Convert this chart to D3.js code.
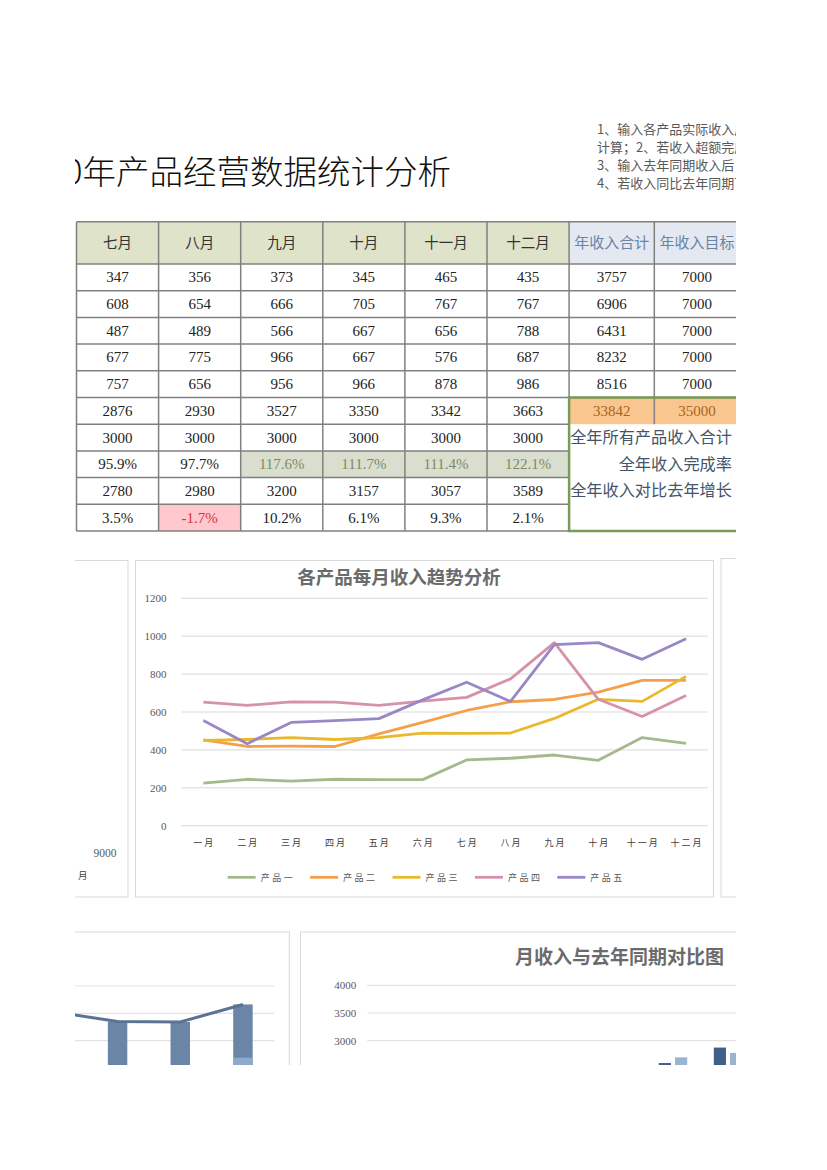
<!DOCTYPE html>
<html>
<head>
<meta charset="utf-8">
<script src="https://cdn.jsdelivr.net/npm/d3@7"></script>
<style>
  body { margin: 0; background: #fff; }
  svg { display: block; }
</style>
</head>
<body>
<div id="chart"></div>
<script>
// ---- data ----
const months = ["一月", "二月", "三月", "四月", "五月", "六月", "七月", "八月", "九月", "十月", "十一月", "十二月"];
const productNames = ["产品一", "产品二", "产品三", "产品四", "产品五"];
const product1 = [225, 245, 235, 245, 243, 243, 347, 356, 373, 345, 465, 435];
const product2 = [453, 418, 420, 418, 485, 545, 608, 654, 666, 705, 767, 767];
const product3 = [450, 455, 465, 455, 465, 488, 487, 489, 566, 667, 656, 788];
const product4 = [652, 635, 653, 652, 635, 657, 677, 775, 966, 667, 576, 687];
const product5 = [555, 433, 545, 555, 565, 664, 757, 656, 956, 966, 878, 986];
const products = [product1, product2, product3, product4, product5];
const productTarget = [7000, 7000, 7000, 7000, 7000];
const monthTarget = [3000, 3000, 3000, 3000, 3000, 3000, 3000, 3000, 3000, 3000, 3000, 3000];
const lastYear = [null, null, null, null, null, 2700, 2780, 2980, 3200, 3157, 3057, 3589];
const lightBars = [null, null, null, null, null, null, null, null, null, null, null, 2690];
const yearTarget = 35000;
const productColors = ["#a5b98c", "#f4a04b", "#e9b82c", "#d692aa", "#9a87c6"];
const trendTicks = [0, 200, 400, 600, 800, 1000, 1200];
const compareTicks = [3000, 3500, 4000];

const titleText = "2020年产品经营数据统计分析";
const notes = [
  "1、输入各产品实际收入后，自动",
  "计算；2、若收入超额完成，标注",
  "3、输入去年同期收入后，自动计算",
  "4、若收入同比去年同期下降，标注"
];
const blockLabels = ["全年所有产品收入合计", "全年收入完成率", "全年收入对比去年增长"];

// derived
const monthTotals = months.map((m, i) => d3.sum(products, p => p[i]));
const productTotals = products.map(p => d3.sum(p));
const grandTotal = d3.sum(productTotals);

const W = 827, H = 1170;
const CN = "'Noto Sans CJK SC', 'Noto Sans', sans-serif";
const SERIF = "'Liberation Serif', 'DejaVu Serif', serif";

const svg = d3.select("#chart").append("svg").attr("width", W).attr("height", H);
svg.append("defs").append("clipPath").attr("id", "page")
  .append("rect").attr("x", 75).attr("y", 0).attr("width", 661).attr("height", 1065);
const page = svg.append("g").attr("clip-path", "url(#page)");

// ---- title and notes ----
page.append("text")
  .attr("x", 451).attr("y", 184)
  .attr("text-anchor", "end")
  .attr("font-family", CN).attr("font-weight", 300)
  .attr("font-size", 33.5).attr("fill", "#111")
  .text(titleText);

page.selectAll("text.note").data(notes).join("text")
  .attr("class", "note")
  .attr("x", 597).attr("y", (d, i) => 133.5 + i * 18.3)
  .attr("font-family", CN).attr("font-size", 13).attr("fill", "#595959")
  .text(d => d);

// ---- table ----
const tblX0 = 76.5, monthW = 82.1, sumW = 85.2;
const colLeft = d3.range(9).map(i => i <= 6 ? tblX0 + i * monthW : tblX0 + 6 * monthW + (i - 6) * sumW);
const headTop = 221.7, headH = 42.3, rowH = 26.7;
const rowTop = r => headTop + headH + r * rowH;
const shown = d3.range(6, 12);
const table = page.append("g");

function cell(c, r, txt, opt = {}) {
  const x = colLeft[c], w = colLeft[c + 1] - colLeft[c];
  const y = r < 0 ? headTop : rowTop(r), h = r < 0 ? headH : rowH;
  if (opt.fill) table.append("rect").attr("x", x).attr("y", y).attr("width", w).attr("height", h).attr("fill", opt.fill);
  if (txt !== null) {
    table.append("text")
      .attr("x", x + w / 2).attr("y", y + h / 2 + 5)
      .attr("text-anchor", "middle")
      .attr("font-family", opt.cn ? CN : SERIF)
      .attr("font-size", opt.size || 15)
      .attr("fill", opt.color || "#222")
      .text(txt);
  }
}

// header
shown.forEach((m, c) => cell(c, -1, months[m], { fill: "#dee3c9", cn: true, size: 14.5, color: "#333", }));
cell(6, -1, "年收入合计", { fill: "#e4e9f1", cn: true, size: 15, color: "#6a84a8" });
cell(7, -1, "年收入目标", { fill: "#e4e9f1", cn: true, size: 15, color: "#6a84a8" });

// product rows
products.forEach((p, r) => {
  shown.forEach((m, c) => cell(c, r, p[m]));
  cell(6, r, productTotals[r]);
  cell(7, r, productTarget[r]);
});
// totals / targets / rate / last year / growth
shown.forEach((m, c) => {
  cell(c, 5, monthTotals[m]);
  cell(c, 6, monthTarget[m]);
  const rate = monthTotals[m] / monthTarget[m];
  cell(c, 7, d3.format(".1%")(rate), rate > 1 ? { fill: "#dadecf", color: "#7b8b67" } : {});
  cell(c, 8, lastYear[m]);
  const g = monthTotals[m] / lastYear[m] - 1;
  cell(c, 9, d3.format(".1%")(g).replace("−", "-"), g < 0 ? { fill: "#ffc7ce", color: "#d6333b" } : {});
});
cell(6, 5, grandTotal, { fill: "#f8c68e", color: "#a8641c", size: 15 });
cell(7, 5, yearTarget, { fill: "#f8c68e", color: "#a8641c", size: 15 });

// grid lines
const gridStroke = "#808080";
const tblBottom = rowTop(10);
d3.range(11).forEach(i => {
  const y = i === 0 ? headTop : rowTop(i - 1);
  const xEnd = i >= 7 ? colLeft[6] : colLeft[8];
  table.append("line").attr("x1", colLeft[0]).attr("x2", xEnd).attr("y1", y).attr("y2", y)
    .attr("stroke", gridStroke).attr("stroke-width", 1.5);
});
table.append("line").attr("x1", colLeft[0]).attr("x2", colLeft[6]).attr("y1", tblBottom).attr("y2", tblBottom)
  .attr("stroke", gridStroke).attr("stroke-width", 1.5);
colLeft.forEach((x, i) => {
  const yEnd = i >= 7 ? rowTop(6) : tblBottom;
  table.append("line").attr("x1", x).attr("x2", x).attr("y1", headTop).attr("y2", yEnd)
    .attr("stroke", gridStroke).attr("stroke-width", 1.5);
});
// green summary block
table.append("path")
  .attr("d", `M${colLeft[8] + 4},${rowTop(5)} H${colLeft[6]} V${tblBottom} H${colLeft[8] + 4}`)
  .attr("fill", "none").attr("stroke", "#7a9a57").attr("stroke-width", 2.5);
blockLabels.forEach((t, i) => {
  table.append("text")
    .attr("x", 732).attr("y", rowTop(6 + i) + rowH / 2 + 5.5)
    .attr("text-anchor", "end")
    .attr("font-family", CN).attr("font-size", 16.2).attr("fill", "#44546a")
    .text(t);
});

// ---- chart frames ----
const frame = (x, y, w, h) => page.append("rect").attr("x", x).attr("y", y).attr("width", w).attr("height", h)
  .attr("fill", "#fff").attr("stroke", "#d9d9d9").attr("stroke-width", 1);
frame(-300, 560.5, 428, 336.5);
frame(135.5, 560.5, 578, 336.5);
frame(721, 558.5, 300, 338.5);
frame(-300, 932, 589.3, 300);
frame(300.5, 932, 740, 300);

// partial chart on the left
page.append("text").attr("x", 116.5).attr("y", 857).attr("text-anchor", "end")
  .attr("font-family", SERIF).attr("font-size", 11.5).attr("fill", "#595959").text("9000");
page.append("text").attr("x", 78).attr("y", 879)
  .attr("font-family", CN).attr("font-size", 9.5).attr("fill", "#404040").text("月");

// ---- trend line chart ----
const trend = page.append("g");
const x = d3.scaleBand().domain(months).range([181.4, 708]);
const y = d3.scaleLinear().domain([0, 1200]).range([825.7, 598.3]);

trend.append("text")
  .attr("x", 399).attr("y", 583.5).attr("text-anchor", "middle")
  .attr("font-family", CN).attr("font-weight", 700).attr("font-size", 18.5).attr("fill", "#6b6b6b")
  .text("各产品每月收入趋势分析");

trend.selectAll("line.grid").data(trendTicks).join("line")
  .attr("class", "grid")
  .attr("x1", 181.4).attr("x2", 708)
  .attr("y1", d => y(d)).attr("y2", d => y(d))
  .attr("stroke", "#d9d9d9").attr("stroke-width", 1);

const yAxis = trend.append("g").attr("transform", "translate(181.4,0)")
  .call(d3.axisLeft(y).tickValues(trendTicks).tickSize(0).tickPadding(15).tickFormat(d3.format("d")));
yAxis.select(".domain").remove();
yAxis.selectAll("text").attr("font-family", SERIF).attr("font-size", 11).attr("fill", "#595959");

trend.selectAll("text.xlab").data(months).join("text")
  .attr("class", "xlab")
  .attr("x", d => x(d) + x.bandwidth() / 2 + 1).attr("y", 846)
  .attr("text-anchor", "middle")
  .attr("font-family", CN).attr("font-size", 9).attr("letter-spacing", 2)
  .attr("fill", "#404040")
  .text(d => d);

const line = d3.line().x((d, i) => x(months[i]) + x.bandwidth() / 2).y(d => y(d));
trend.selectAll("path.series").data(products).join("path")
  .attr("class", "series")
  .attr("d", line)
  .attr("fill", "none")
  .attr("stroke", (d, i) => productColors[i])
  .attr("stroke-width", 2.8)
  .attr("stroke-linejoin", "round");

const legend = trend.selectAll("g.leg").data(productNames).join("g")
  .attr("class", "leg")
  .attr("transform", (d, i) => `translate(${227.7 + i * 82.4},877.3)`);
legend.append("line").attr("x1", 0).attr("x2", 28).attr("y1", 0).attr("y2", 0)
  .attr("stroke", (d, i) => productColors[i]).attr("stroke-width", 2.8);
legend.append("text").attr("x", 33).attr("y", 3.5)
  .attr("font-family", CN).attr("font-size", 9).attr("letter-spacing", 2.5).attr("fill", "#595959")
  .text(d => d);

// ---- bottom-left: monthly totals column + line ----
const bl = page.append("g");
const xb = d3.scaleBand().domain(months).range([-478, 274.3]).paddingInner(0.69).paddingOuter(0.345);
const yb = d3.scaleLinear().domain([0, 4000]).range([1204.8, 986]);
bl.selectAll("line.grid").data(compareTicks).join("line")
  .attr("class", "grid")
  .attr("x1", -478).attr("x2", 274.3)
  .attr("y1", d => yb(d)).attr("y2", d => yb(d))
  .attr("stroke", "#e3e3e3").attr("stroke-width", 1.2);
bl.selectAll("rect.bar").data(monthTotals).join("rect")
  .attr("class", "bar")
  .attr("x", (d, i) => xb(months[i])).attr("width", xb.bandwidth())
  .attr("y", d => yb(d)).attr("height", d => yb(0) - yb(d))
  .attr("fill", "#6b85a6");
bl.selectAll("rect.light").data(lightBars.map((v, i) => ({ m: months[i], v })).filter(d => d.v !== null)).join("rect")
  .attr("class", "light")
  .attr("x", d => xb(d.m)).attr("width", xb.bandwidth())
  .attr("y", d => yb(d.v)).attr("height", d => yb(0) - yb(d.v))
  .attr("fill", "#8ea9ca");
bl.append("path")
  .attr("d", d3.line().x((d, i) => xb(months[i]) + xb.bandwidth() / 2).y(d => yb(d))(monthTotals))
  .attr("fill", "none").attr("stroke", "#5b7393").attr("stroke-width", 3);

// ---- bottom-right: this year vs last year ----
const br = page.append("g");
const x2 = d3.scaleBand().domain(months).range([370.5, 1030.5]);
const x2in = d3.scaleBand().domain(["本年", "去年"]).range([-14.2, 14.2]).paddingInner(0.25);
const y2 = d3.scaleLinear().domain([0, 4000]).range([1206.9, 985.3]);

br.append("text")
  .attr("x", 515).attr("y", 963.5)
  .attr("font-family", CN).attr("font-weight", 700).attr("font-size", 19).attr("fill", "#6b6b6b")
  .text("月收入与去年同期对比图");
br.selectAll("line.grid").data(compareTicks).join("line")
  .attr("class", "grid")
  .attr("x1", 367.3).attr("x2", 1030.5)
  .attr("y1", d => y2(d)).attr("y2", d => y2(d))
  .attr("stroke", "#e3e3e3").attr("stroke-width", 1.2);
const y2Axis = br.append("g").attr("transform", "translate(367.3,0)")
  .call(d3.axisLeft(y2).tickValues(compareTicks).tickSize(0).tickPadding(11).tickFormat(d3.format("d")));
y2Axis.select(".domain").remove();
y2Axis.selectAll("text").attr("font-family", SERIF).attr("font-size", 11).attr("fill", "#595959");

const pairs = months.map((m, i) => ({ m, vals: [["本年", monthTotals[i]], ["去年", lastYear[i]]] }));
br.selectAll("g.grp").data(pairs).join("g")
  .attr("class", "grp")
  .attr("transform", d => `translate(${x2(d.m) + x2.bandwidth() / 2},0)`)
  .selectAll("rect").data(d => d.vals.filter(v => v[1] !== null)).join("rect")
  .attr("x", d => x2in(d[0])).attr("width", x2in.bandwidth())
  .attr("y", d => y2(d[1])).attr("height", d => y2(0) - y2(d[1]))
  .attr("fill", d => d[0] === "本年" ? "#416089" : "#9bb3d3");
</script>
</body>
</html>
